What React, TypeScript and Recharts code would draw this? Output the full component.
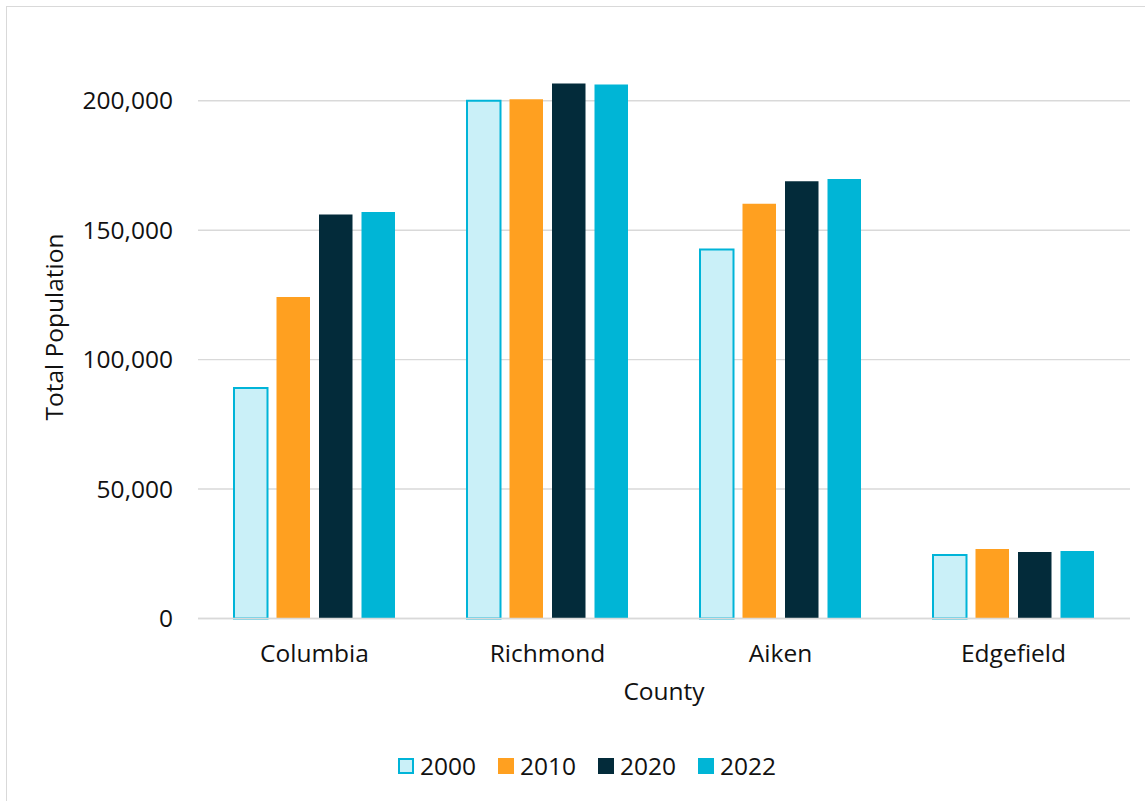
import React from 'react';
import { BarChart, Bar, XAxis, YAxis, CartesianGrid, Legend, Label } from 'recharts';

const counties = ['Columbia', 'Richmond', 'Aiken', 'Edgefield'];
const pop2000 = [89000, 200000, 142500, 24500];
const pop2010 = [124200, 200600, 160200, 26800];
const pop2020 = [156100, 206700, 168900, 25700];
const pop2022 = [157000, 206300, 169800, 26100];
const yTicks = [0, 50000, 100000, 150000, 200000];

const series = [
  { key: 'y2000', name: '2000', fill: '#caf0f8', stroke: '#00b4d8', strokeWidth: 2 },
  { key: 'y2010', name: '2010', fill: '#ffa020', stroke: 'none', strokeWidth: 0 },
  { key: 'y2020', name: '2020', fill: '#032b3a', stroke: 'none', strokeWidth: 0 },
  { key: 'y2022', name: '2022', fill: '#00b5d6', stroke: 'none', strokeWidth: 0 },
];

const data = counties.map((c, i) => ({
  county: c,
  y2000: pop2000[i],
  y2010: pop2010[i],
  y2020: pop2020[i],
  y2022: pop2022[i],
}));

const FONT = '"Open Sans", sans-serif';
const FS = 24.5;

const renderLegend = () => (
  <div style={{ display: 'flex', alignItems: 'center', height: 32, fontFamily: FONT, fontSize: FS, color: '#111' }}>
    {series.map((s) => (
      <div key={s.key} style={{ display: 'flex', alignItems: 'center', width: 100 }}>
        <div
          style={{
            width: 16,
            height: 16,
            boxSizing: 'border-box',
            background: s.fill,
            border: s.strokeWidth ? `2px solid ${s.stroke}` : 'none',
            marginRight: 6,
          }}
        />
        <span style={{ lineHeight: '32px' }}>{s.name}</span>
      </div>
    ))}
  </div>
);

const YLabel = () => (
  <text
    x={63}
    y={327}
    transform="rotate(-90, 63, 327)"
    textAnchor="middle"
    fontFamily={FONT}
    fontSize={FS}
    fill="#111"
  >
    Total Population
  </text>
);

export default function App() {
  return (
    <div style={{ position: 'absolute', left: 0, top: 0, width: 1145, height: 801, overflow: 'hidden', background: '#fff' }}>
      <div
        style={{
          position: 'absolute',
          left: 6,
          top: 6,
          width: 1200,
          height: 900,
          border: '1.5px solid #d9d9d9',
        }}
      />
      <div style={{ position: 'absolute', left: 0, top: 0 }}>
        <BarChart
          width={1145}
          height={801}
          data={data}
          margin={{ top: 49, right: 15, bottom: 82.5, left: 0 }}
          barSize={33.5}
          barGap={9}
        >
          <CartesianGrid vertical={false} stroke="#d9d9d9" strokeWidth={1.4} horizontalValues={yTicks} />
          <XAxis
            dataKey="county"
            height={100}
            axisLine={{ stroke: '#d9d9d9', strokeWidth: 1.4 }}
            tickLine={false}
            tickSize={6}
            tickMargin={20.5}
            tick={{ fontFamily: FONT, fontSize: FS, fill: '#111' }}
          >
            <Label
              value="County"
              position="insideBottom"
              offset={18.5}
              style={{ fontFamily: FONT, fontSize: FS, fill: '#111' }}
            />
          </XAxis>
          <YAxis
            width={198}
            domain={[0, 220000]}
            ticks={yTicks}
            axisLine={false}
            tickLine={false}
            tickSize={6}
            tickMargin={19}
            tickFormatter={(v: number) => v.toLocaleString('en-US')}
            tick={{ fontFamily: FONT, fontSize: FS, fill: '#111' }}
          >
            <Label content={<YLabel />} />
          </YAxis>
          <Legend
            layout="horizontal"
            verticalAlign="middle"
            align="center"
            content={renderLegend}
            wrapperStyle={{ left: 398, top: 750, width: 420, height: 32 }}
          />
          {series.map((s) => (
            <Bar
              key={s.key}
              dataKey={s.key}
              name={s.name}
              fill={s.fill}
              stroke={s.stroke}
              strokeWidth={s.strokeWidth}
              isAnimationActive={false}
            />
          ))}
        </BarChart>
      </div>
    </div>
  );
}
